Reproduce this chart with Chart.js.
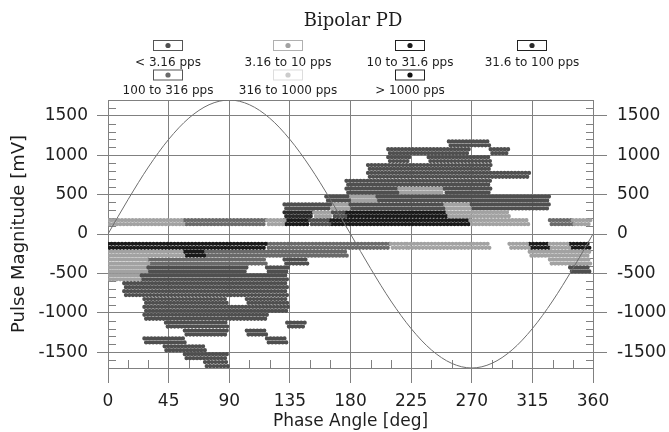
<!DOCTYPE html>
<html>
<head>
<meta charset="utf-8">
<script src="https://cdn.jsdelivr.net/npm/chart.js@4.4.1/dist/chart.umd.min.js"></script>
<style>
html, body { margin: 0; padding: 0; background: #fff; }
#wrap { width: 669px; height: 432px; }
</style>
</head>
<body>
<div id="wrap"><canvas id="canvasPD" width="669" height="432"></canvas></div>
<script>
// classes de taux de répétition (legende)
const categories = ["< 3.16 pps", "3.16 to 10 pps", "10 to 31.6 pps", "31.6 to 100 pps", "100 to 316 pps", "316 to 1000 pps", "> 1000 pps"]
const categoryColors = ["#4f4f4f", "#a2a2a2", "#1a1a1a", "#2a2a2a", "#6a6a6a", "#cccccc", "#101010"]
const legendBorderColors = ["#555555", "#b0b0b0", "#222222", "#222222", "#555555", "#dddddd", "#222222"]

// axes
const phaseTicks = [0, 45, 90, 135, 180, 225, 270, 315, 360]
const magnitudeTicks = [-1700, -1500, -1000, -500, 0, 500, 1000, 1500, 1700]

// tension de reference (tous les 15 deg)
const sinePhase = [0, 15, 30, 45, 60, 75, 90, 105, 120, 135, 150, 165, 180, 195, 210, 225, 240, 255, 270, 285, 300, 315, 330, 345, 360]
const sineMagnitude = [0, 440, 850, 1200, 1470, 1640, 1700, 1640, 1470, 1200, 850, 440, 0, -440, -850, -1200, -1470, -1640, -1700, -1640, -1470, -1200, -850, -440, 0]

// bandes d'amplitude (mV) et segments de phase [debut, fin, classe]
const bandMagnitudes = [1150, 1050, 950, 850, 750, 650, 550, 450, 350, 250, 150,
    -150, -250, -350, -450, -550, -650, -750, -850, -950, -1050, -1150, -1250, -1350, -1450, -1550, -1650]
const bandSegments = [
    [[253, 284, 0]],
    [[208, 269, 0], [284, 298, 0]],
    [[208, 224, 0], [238, 284, 0]],
    [[193, 284, 0]],
    [[193, 313, 0]],
    [[177, 284, 0]],
    [[177, 215, 0], [215, 250, 1], [250, 284, 0]],
    [[162, 180, 0], [180, 200, 1], [200, 328, 0]],
    [[131, 165, 0], [165, 180, 1], [180, 250, 0], [250, 270, 1], [270, 328, 0]],
    [[131, 153, 3], [153, 167, 1], [167, 177, 0], [177, 252, 2], [252, 298, 1]],
    [[0, 57, 1], [57, 118, 4], [118, 131, 1], [131, 150, 2], [150, 165, 0], [165, 269, 2], [269, 313, 1], [328, 345, 4], [345, 359, 1]],
    [[0, 118, 2], [118, 210, 4], [210, 222, 1], [222, 284, 1], [298, 313, 1], [313, 328, 2], [328, 343, 1], [343, 358, 2]],
    [[0, 57, 1], [57, 72, 2], [72, 178, 4], [313, 358, 1]],
    [[0, 30, 1], [30, 118, 4], [131, 148, 0], [328, 358, 1]],
    [[0, 30, 1], [30, 103, 0], [118, 134, 0], [343, 358, 0]],
    [[0, 25, 1], [25, 134, 0]],
    [[12, 134, 0]],
    [[12, 134, 0]],
    [[27, 89, 0], [103, 134, 0]],
    [[27, 134, 0]],
    [[27, 119, 0]],
    [[43, 89, 0], [133, 147, 0]],
    [[57, 89, 0], [103, 118, 0]],
    [[27, 58, 0], [118, 133, 0]],
    [[42, 73, 0]],
    [[57, 89, 0]],
    [[72, 89, 0]]
]

const gridColor = "#808080"
const textColor = "#1e1e1e"
const sansFont = "'DejaVu Sans', sans-serif"

// deux rangees de points decalees par bande
const subRowOffsets = [25, -25]

let datasets = [{
    label: "sine",
    data: sinePhase.map((p, i) => ({x: p, y: sineMagnitude[i]})),
    showLine: true,
    borderColor: "#6e6e6e",
    borderWidth: 1,
    pointRadius: 0,
    cubicInterpolationMode: "monotone"
}]

categories.forEach((nom, c) => {
    subRowOffsets.forEach((off, s) => {
        let points = []
        bandMagnitudes.forEach((mag, b) => {
            for (let seg of bandSegments[b]) {
                if (seg[2] !== c) continue
                points.push({x: seg[0], y: mag + off}, {x: seg[1], y: mag + off}, {x: seg[1], y: null})
            }
        })
        datasets.push({
            label: nom,
            data: points,
            showLine: true,
            spanGaps: false,
            pointRadius: 0,
            borderColor: categoryColors[c],
            borderWidth: 4.3,
            borderCapStyle: "round",
            borderDash: [0, 3.5],
            borderDashOffset: s * 1.75
        })
    })
})

// petites graduations + titre + legende dessines a la main
const decorPlugin = {
    id: "decor",
    beforeDatasetsDraw(chart) {
        const {ctx, chartArea: a, scales: {x, y}} = chart
        ctx.save()
        ctx.strokeStyle = gridColor
        ctx.lineWidth = 1
        ctx.beginPath()
        for (let p = 15; p < 360; p += 15) {
            if (p % 45 === 0) continue
            const px = Math.round(x.getPixelForValue(p)) + 0.5
            ctx.moveTo(px, a.bottom)
            ctx.lineTo(px, a.bottom - 8)
        }
        for (let m = -1600; m <= 1600; m += 100) {
            if (m % 500 === 0) continue
            const py = Math.round(y.getPixelForValue(m)) + 0.5
            ctx.moveTo(a.left, py)
            ctx.lineTo(a.left + 8, py)
            ctx.moveTo(a.right, py)
            ctx.lineTo(a.right - 7, py)
        }
        ctx.stroke()
        ctx.restore()
    },
    afterDraw(chart) {
        const ctx = chart.ctx
        ctx.save()
        ctx.fillStyle = textColor
        ctx.textAlign = "center"
        ctx.textBaseline = "middle"
        ctx.font = "18px 'DejaVu Serif', serif"
        ctx.fillText("Bipolar PD", 353, 21)

        const colX = [168, 288, 410, 532]
        const boxY = [45.5, 75]
        const labelY = [63, 91]
        ctx.font = "12px " + sansFont
        categories.forEach((nom, i) => {
            const cx = colX[i % 4]
            const row = Math.floor(i / 4)
            ctx.strokeStyle = legendBorderColors[i]
            ctx.lineWidth = 1
            ctx.strokeRect(cx - 14.5, boxY[row] - 5, 29, 10)
            ctx.fillStyle = categoryColors[i]
            ctx.beginPath()
            ctx.arc(cx, boxY[row], 2.6, 0, Math.PI * 2)
            ctx.fill()
            ctx.fillStyle = textColor
            ctx.fillText(nom, cx, labelY[row])
        })
        ctx.restore()
    }
}

function yAxis(position, tickLength, padding) {
    return {
        type: "linear",
        position: position,
        min: -1700,
        max: 1700,
        afterBuildTicks: s => { s.ticks = magnitudeTicks.map(v => ({value: v})) },
        afterFit: s => {
            s.width = position === "left" ? 108 : 76
            s.paddingTop = 0
            s.paddingBottom = 0
        },
        ticks: {
            color: textColor,
            padding: padding,
            font: {family: sansFont, size: 17},
            callback: v => Math.abs(v) === 1700 ? "" : String(v)
        },
        grid: {
            color: gridColor,
            lineWidth: 1,
            drawOnChartArea: position === "left",
            tickLength: tickLength,
            tickColor: ctx => (ctx.tick && Math.abs(ctx.tick.value) === 1700) ? "rgba(0,0,0,0)" : gridColor
        },
        border: {display: true, color: gridColor},
        title: position === "left" ? {
            display: true,
            text: "Pulse Magnitude [mV]",
            color: textColor,
            font: {family: sansFont, size: 18},
            padding: {top: 9, bottom: 0}
        } : {display: false}
    }
}

new Chart(document.getElementById("canvasPD"), {
    type: "scatter",
    data: {datasets: datasets},
    plugins: [decorPlugin],
    options: {
        responsive: false,
        animation: false,
        events: [],
        layout: {padding: {top: 100, left: 0, right: 0, bottom: 0}},
        plugins: {legend: {display: false}, tooltip: {enabled: false}},
        scales: {
            x: {
                type: "linear",
                position: "bottom",
                min: 0,
                max: 360,
                afterBuildTicks: s => { s.ticks = phaseTicks.map(v => ({value: v})) },
                afterFit: s => {
                    s.height = 64
                    s.paddingLeft = 0
                    s.paddingRight = 0
                },
                ticks: {
                    color: textColor,
                    padding: 8,
                    maxRotation: 0,
                    autoSkip: false,
                    font: {family: sansFont, size: 17},
                    callback: v => String(v)
                },
                grid: {color: gridColor, lineWidth: 1, tickLength: 15, tickColor: gridColor},
                border: {display: true, color: gridColor},
                title: {
                    display: true,
                    text: "Phase Angle [deg]",
                    color: textColor,
                    font: {family: sansFont, size: 17},
                    padding: {top: 0, bottom: 0}
                }
            },
            y: yAxis("left", 11, 9),
            y2: yAxis("right", 14, 10)
        }
    }
})
</script>
</body>
</html>
